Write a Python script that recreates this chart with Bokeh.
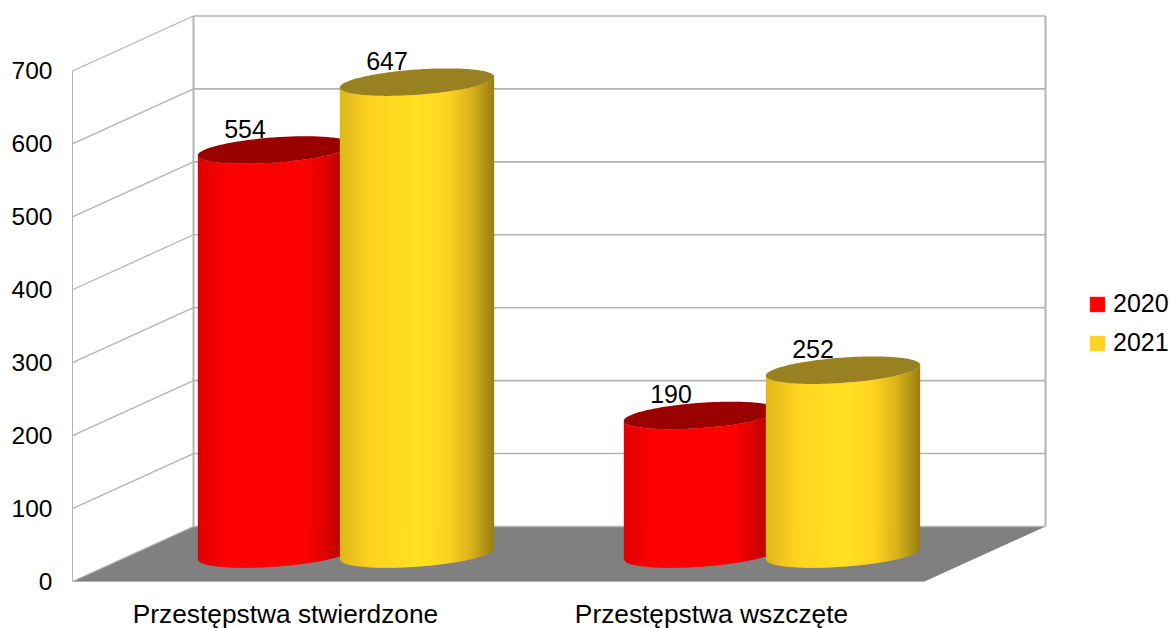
import numpy as np
from bokeh.core.properties import value
from bokeh.embed import file_html
from bokeh.models import FixedTicker, Legend, LegendItem, Range1d
from bokeh.plotting import figure
from bokeh.resources import INLINE

categories = ["Przestępstwa stwierdzone", "Przestępstwa wszczęte"]
series_names = ["2020", "2021"]
values_2020 = [554, 190]
values_2021 = [647, 252]
y_ticks = [0, 100, 200, 300, 400, 500, 600, 700]

FONT = "Liberation Sans"
GRID = "#b3b3b3"
FLOOR = "#808080"
BASE = [(255, 0, 0), (255, 211, 32)]
TOPS = ["#990000", "#998021"]
LEGEND_COL = ["#ff0000", "#ffd320"]

W, H = 1171, 628
X0, Y0 = 72, 581   # page position of the chart origin
PX_X = 426.0        # pixels per category
PX_Y = 0.7293       # pixels per value unit
DEPTH_X = 121 / PX_X
DEPTH_Y = 55 / PX_Y
RADIUS = 1 / 6

p = figure(width=W, height=H, output_backend="svg", toolbar_location=None,
           x_range=Range1d(-X0 / PX_X, (W - X0) / PX_X),
           y_range=Range1d(-(H - Y0) / PX_Y, Y0 / PX_Y),
           min_border_left=0, min_border_right=0, min_border_top=0, min_border_bottom=0,
           margin=0,
           outline_line_color=None, background_fill_color="white")
p.grid.visible = False

# axes
ya = p.yaxis[0]
ya.fixed_location = 0
ya.ticker = FixedTicker(ticks=y_ticks)
ya.bounds = (y_ticks[0], y_ticks[-1])
ya.axis_line_color = GRID
ya.major_tick_line_color = None
ya.minor_tick_line_color = None
ya.major_label_standoff = 14
ya.major_label_text_font = FONT
ya.major_label_text_font_size = "24.5px"
ya.major_label_text_color = "black"

xa = p.xaxis[0]
xa.fixed_location = 0
xa.ticker = FixedTicker(ticks=[i + 0.5 for i in range(len(categories))])
xa.major_label_overrides = {i + 0.5: c for i, c in enumerate(categories)}
xa.bounds = (0, len(categories))
xa.axis_line_color = GRID
xa.major_tick_line_color = None
xa.minor_tick_line_color = None
xa.major_label_standoff = 11
xa.major_label_text_font = FONT
xa.major_label_text_font_size = "26.3px"
xa.major_label_text_color = "black"

n_cat = len(categories)
ymax = y_ticks[-1]

# floor
p.patch([0, n_cat, n_cat + DEPTH_X, DEPTH_X], [0, 0, DEPTH_Y, DEPTH_Y],
        fill_color=FLOOR, line_color=None)

# walls and grid
back_v = [DEPTH_X, n_cat + DEPTH_X]
p.line([DEPTH_X, DEPTH_X], [DEPTH_Y, ymax + DEPTH_Y], line_color=GRID, line_width=2)
p.line([n_cat + DEPTH_X, n_cat + DEPTH_X], [DEPTH_Y, ymax + DEPTH_Y], line_color=GRID, line_width=2)
for t in y_ticks:
    p.line([0, DEPTH_X], [t, t + DEPTH_Y], line_color=GRID, line_width=1.3)
    p.line(back_v, [t + DEPTH_Y, t + DEPTH_Y], line_color=GRID, line_width=1.6)

# shading ramp of the cylinder side
ramp_s = [0.0, 0.2, 0.5, 0.7, 0.85, 1.0]
ramp_f = [0.87, 1.0, 1.07, 1.0, 0.85, 0.6]


def shade(rgb, s):
    f = np.interp(s, ramp_s, ramp_f)
    return "#%02x%02x%02x" % tuple(min(255, int(c * f)) for c in rgb)


def cylinder(cx, val, base, top):
    a, dx, dy = RADIUS, DEPTH_X * 0.25, DEPTH_Y * 0.25
    cy0, cy1 = DEPTH_Y / 2, val + DEPTH_Y / 2
    big = np.hypot(a, dx)
    phi = np.arctan2(dx, a)
    n = 110
    edges = np.linspace(cx - big, cx + big, n + 1)
    overlap = 0.8 / PX_X

    def lower(x, cy):
        th = np.arccos(np.clip((x - cx) / big, -1, 1))
        return cy + dy * np.sin(phi - th)

    xs, ys, cols = [], [], []
    for i in range(n):
        x0, x1 = edges[i], min(edges[i + 1] + overlap, cx + big)
        xs.append([x0, x1, x1, x0])
        ys.append([lower(x0, cy1), lower(x1, cy1), lower(x1, cy0), lower(x0, cy0)])
        cols.append(shade(base, (i + 0.5) / n))
    p.patches(xs, ys, fill_color=cols, line_color=None)
    t = np.linspace(0, 2 * np.pi, 181)
    p.patch(cx + a * np.cos(t) + dx * np.sin(t), cy1 + dy * np.sin(t),
            fill_color=top, line_color=None)


all_series = [values_2020, values_2021]
for ci in range(n_cat):
    for si, vals in enumerate(all_series):
        cx = ci + 0.5 + (si - 0.5) / 3 + DEPTH_X / 2
        cylinder(cx, vals[ci], BASE[si], TOPS[si])

# value labels
for ci in range(n_cat):
    for si, vals in enumerate(all_series):
        cx = ci + 0.5 + (si - 0.5) / 3 + DEPTH_X / 2
        p.text([cx - 30 / PX_X], [vals[ci] + DEPTH_Y / 2 + 21 / PX_Y], text=[str(vals[ci])],
               text_font=value(FONT), text_font_size="25px", text_color="black",
               text_align="center", text_baseline="middle")

# legend
proxies = [p.quad(left=[np.nan], right=[np.nan], top=[np.nan], bottom=[np.nan],
                  fill_color=c, line_color=c)
           for c in LEGEND_COL]
legend = Legend(items=[LegendItem(label=n, renderers=[r]) for n, r in zip(series_names, proxies)],
                location=(1088, 271), orientation="vertical", padding=0, margin=0,
                spacing=10, glyph_width=18, glyph_height=18, label_standoff=7,
                label_text_font=FONT, label_text_font_size="25px", label_text_color="black",
                border_line_color=None, background_fill_alpha=0)
p.add_layout(legend, "center")

open("out.html", "w").write(file_html(p, INLINE))
